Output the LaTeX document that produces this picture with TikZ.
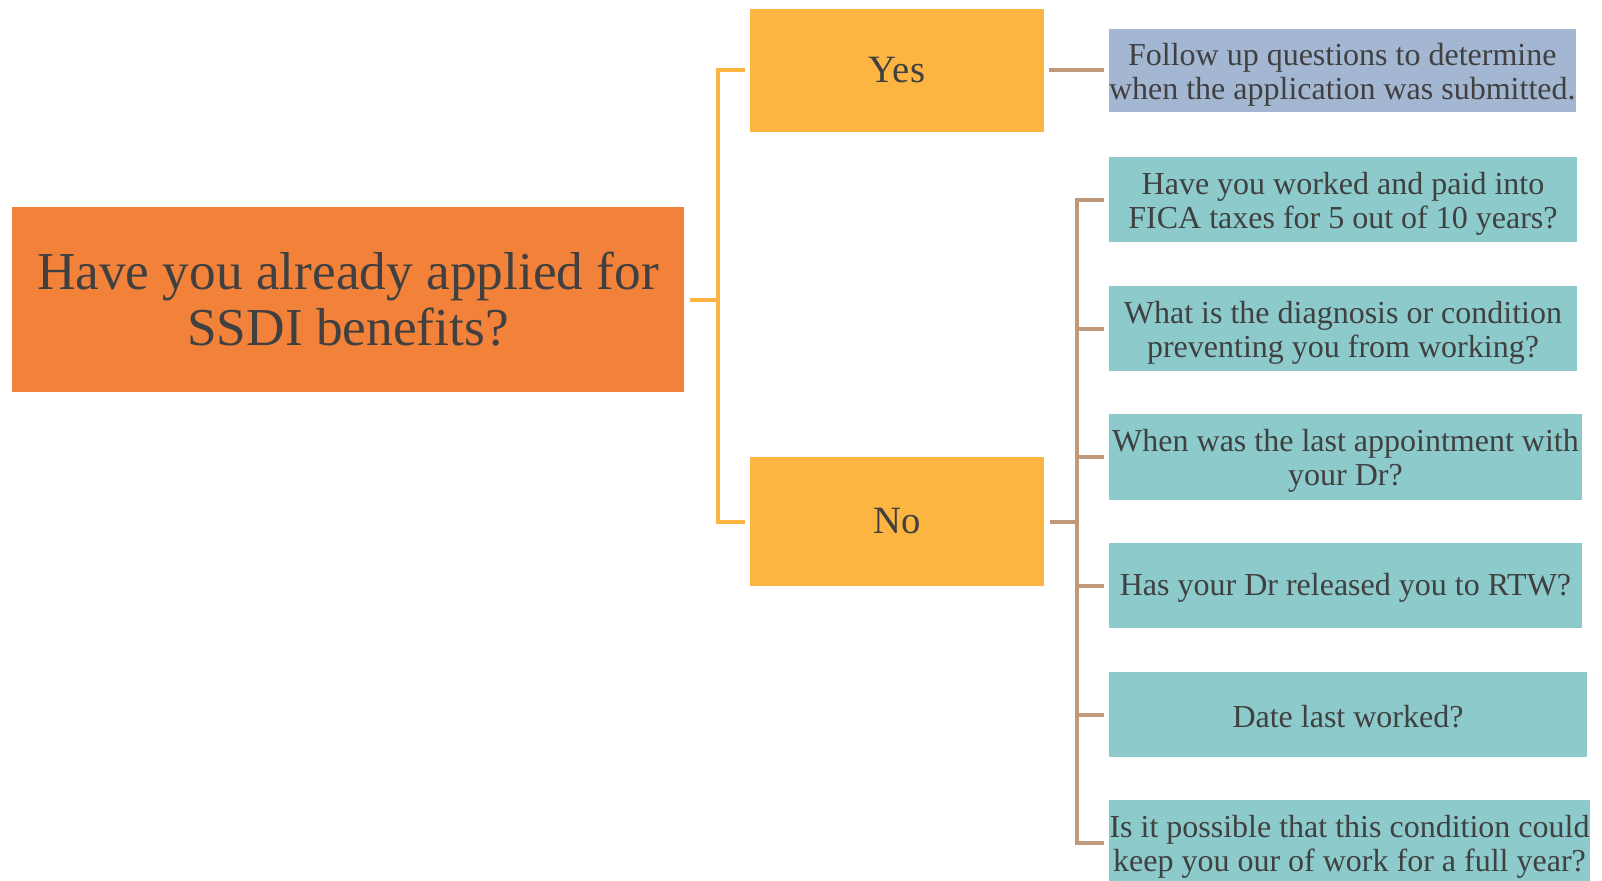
\documentclass[tikz,border=0pt]{standalone}
\usepackage{fontspec}
\setmainfont{Liberation Serif}
\usetikzlibrary{positioning}
\definecolor{mainorange}{HTML}{F2813A}
\definecolor{ansyellow}{HTML}{FBB540}
\definecolor{followblue}{HTML}{A3B6D2}
\definecolor{qteal}{HTML}{8CCACB}
\definecolor{linebrown}{HTML}{C0997A}
\definecolor{txtgray}{HTML}{404040}
\tikzset{
    box/.style={inner sep=0pt, outer sep=0pt, align=center, text=txtgray},
    mainbox/.style={box, fill=mainorange, minimum width=504pt, minimum height=138.75pt,
        font=\fontsize{40}{42}\selectfont},
    ansbox/.style={box, fill=ansyellow, minimum width=220.5pt,
        font=\fontsize{29}{31}\selectfont},
    qbox/.style={box, anchor=west, minimum height=64pt,
        font=\fontsize{24}{25.5}\selectfont},
    oneline/.style={qbox, execute at begin node={\rule{0pt}{20pt}}},
    twoline/.style={qbox, execute at begin node={\rule{0pt}{48pt}}},
    yline/.style={draw=ansyellow, line width=3pt},
    bline/.style={draw=linebrown, line width=3pt},
}

\begin{document}
\begin{tikzpicture}[x=0.75pt, y=-0.75pt]
        \useasboundingbox (0,0) rectangle (1602,881);
        \node[mainbox](main) at (348,299.5) {Have you already applied for\\SSDI benefits?};
        \node[ansbox, minimum height=92.25pt](yes) at (897,70.5)  {Yes};
        \node[ansbox, minimum height=96.75pt](no)  at (897,521.5) {No};
        \node[twoline, fill=followblue, minimum width=348pt, minimum height=62.25pt](follow) at (1109,70.5)
            {Follow up questions to determine\\when the application was submitted.};
        \node[twoline, fill=qteal, minimum width=351pt](q1) at (1109,199.5)
            {Have you worked and paid into\\FICA taxes for 5 out of 10 years?};
        \node[twoline, fill=qteal, minimum width=351pt](q2) at (1109,328.5)
            {What is the diagnosis or condition\\preventing you from working?};
        \node[twoline, fill=qteal, minimum width=354.75pt](q3) at (1109,457)
            {When was the last appointment with\\your Dr?};
        \node[oneline, fill=qteal, minimum width=354.75pt](q4) at (1109,585.5)
            {Has your Dr released you to RTW?};
        \node[oneline, fill=qteal, minimum width=358.5pt](q5) at (1109,714.5)
            {Date last worked?};
        \node[twoline, fill=qteal, minimum width=360.75pt](q6) at (1109,843)
            {Is it possible that this condition could\\keep you our of work for a full year?};
        \coordinate (yspine) at (718,0);
        \coordinate (bspine) at (1077,0);
        % yes / no bracket
        \draw[yline] ([xshift=4.5pt]main.east) -- (yspine |- main.east);
        \draw[yline] ([xshift=-3.75pt]yes.west) -| (yspine |- no.west) -- ([xshift=-3.75pt]no.west);
        % follow up questions
        \draw[bline] ([xshift=3.75pt]yes.east) -- ([xshift=-3.75pt]follow.west);
        \draw[bline] ([xshift=4.5pt]no.east) -- (bspine |- no.east);
        \draw[bline] ([xshift=-3.75pt]q1.west) -| (bspine |- q6.west) -- ([xshift=-3.75pt]q6.west);
        \foreach \i in {2,...,5}
            \draw[bline] (bspine |- q\i.west) -- ([xshift=-3.75pt]q\i.west);
\end{tikzpicture}
\end{document}
